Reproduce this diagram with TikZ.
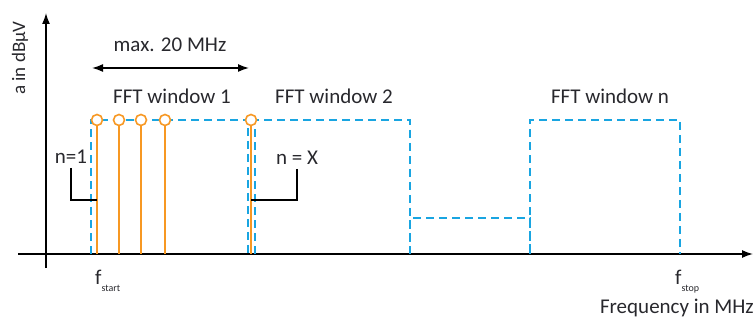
\documentclass[tikz,border=0pt]{standalone}
\usepackage{fontspec}
\setmainfont{Carlito}
\usetikzlibrary{positioning}
\usetikzlibrary{arrows.meta,shapes}
\usetikzlibrary{calc}
\definecolor{lineorange}{RGB}{247,152,35}
\definecolor{winblue}{RGB}{25,165,225}
\definecolor{ink}{RGB}{40,40,45}
\tikzstyle{axis} = [draw,line width=1.5pt,-{Latex[length=11pt,width=8pt]}]
\tikzstyle{span} = [draw,line width=1.5pt,{Latex[length=11pt,width=8pt]}-{Latex[length=11pt,width=8pt]}]
\tikzstyle{window} = [draw=winblue,line width=1.6pt,dash pattern=on 8pt off 5pt]
\tikzstyle{stem} = [draw=lineorange,line width=1.6pt]
\tikzstyle{peak}=[circle,draw=lineorange,fill=white,line width=1.6pt,minimum size=11pt,inner sep=0pt]
\tikzstyle{leader} = [draw,line width=1.1pt]
\tikzstyle{txt} = [inner sep=0pt,text=ink,font=\fontsize{21}{23}\selectfont]

\begin{document}
\begin{tikzpicture}[x=1pt,y=-1pt]
    \useasboundingbox (0,0) rectangle (754,320);

    % axes
    \coordinate (xbeg) at (18,254);
    \coordinate (xend) at (753,254);
    \coordinate (ybeg) at (46,268);
    \coordinate (yend) at (46,13);
    \path[axis] (xbeg) -- (xend);
    \path[axis] (ybeg) -- (yend);
    \node[txt,rotate=90,font=\fontsize{19}{21}\selectfont] (ylab) at (20,58) {a in dBμV};
    \node[txt,anchor=south east] (xlab) at (754,317) {Frequency in MHz};

    % span of one window
    \node[txt] (max) at (170,45) {max. 20 MHz};
    \coordinate (spanL) at (92,68);
    \coordinate (spanR) at (249,68);
    \path[span] (spanL) -- (spanR);

    % window titles
    \foreach \pos/\name/\text in {{(172,96)/w1/FFT window 1}, {(334,96)/w2/FFT window 2}, {(610,96)/wn/FFT window n}}
        \node[txt] (\name) at \pos {\text};

    % FFT windows
    \path[window] (91,254) -- (91,120) -- (248,120) -- (248,254);
    \path[window] (255,254) -- (255,120) -- (410,120) -- (410,254);
    \path[window] (410,254) -- (410,218) -- (530,218) -- (530,254);
    \path[window] (530,254) -- (530,120) -- (680,120) -- (680,254);

    % spectral lines
    \foreach \x/\name in {97/s1, 119/s2, 141/s3, 165/s4, 251/sX}
    {
        \coordinate (\name foot) at (\x,254);
        \node[peak] (\name) at (\x,120) {};
        \path[stem] (\name foot) -- (\name.south);
    }

    % line numbers
    \node[txt] (n1) at (71,157) {n=1};
    \node[txt] (nX) at (297,158) {n = X};
    \path[leader] (n1.south) ++(0,4) |- ($(s1foot)+(0,-54)$);
    \path[leader] (nX.south) ++(0,4) |- ($(sXfoot)+(0,-54)$);

    % start and stop
    \node[txt,anchor=north west] (fstart) at (95,270) {f\raisebox{-7pt}{\fontsize{10}{10}\selectfont start}};
    \node[txt,anchor=north west] (fstop) at (675,270) {f\raisebox{-7pt}{\fontsize{10}{10}\selectfont stop}};
\end{tikzpicture}
\end{document}
